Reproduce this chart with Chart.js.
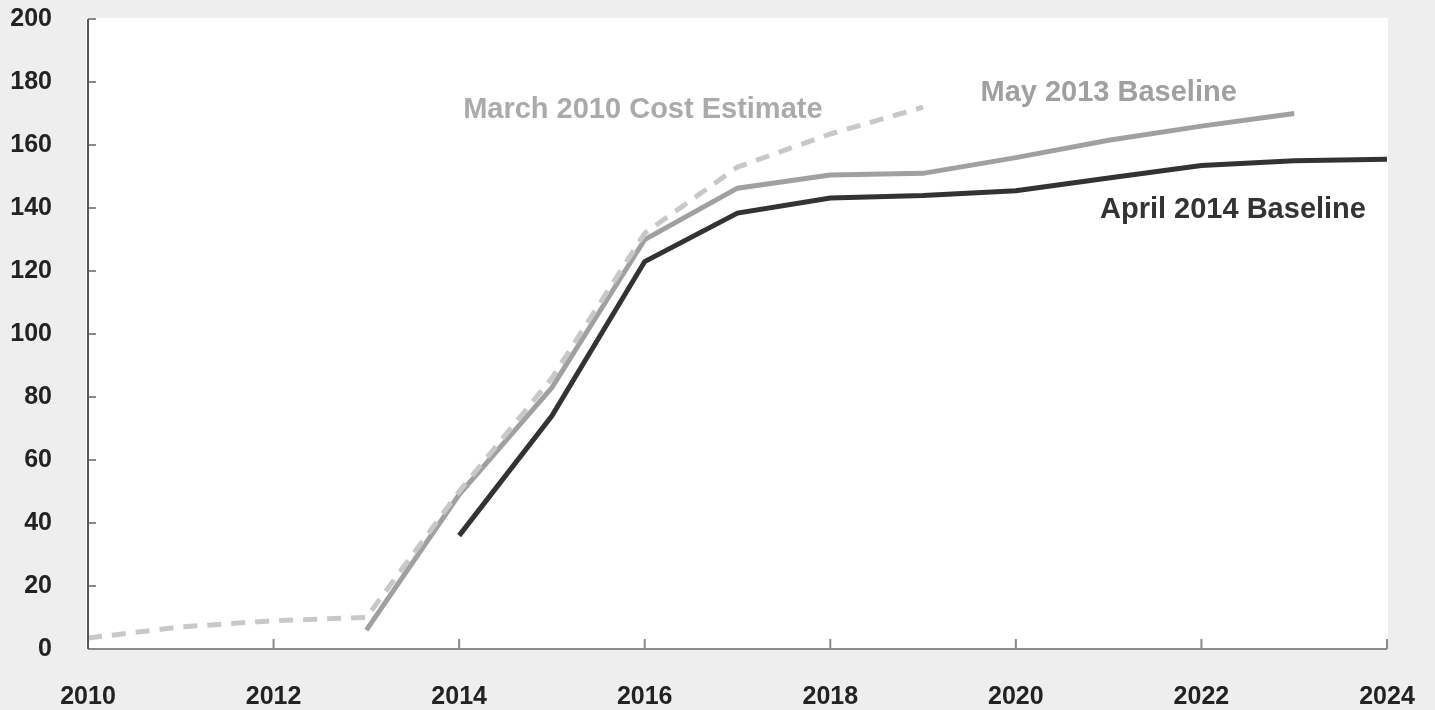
<!DOCTYPE html>
<html>
<head>
<meta charset="utf-8">
<script src="https://cdn.jsdelivr.net/npm/chart.js@4"></script>
<style>
  html, body { margin: 0; padding: 0; background: #eeeeee; }
  #wrap { width: 1435px; height: 710px; }
</style>
</head>
<body>
<div id="wrap"><canvas id="chart" width="1435" height="710"></canvas></div>
<script>
// Cost estimate curves.
const YEARS_MARCH2010 = [2010, 2011, 2012, 2013, 2014, 2015, 2016, 2017, 2018, 2019];
const MARCH2010 = [3.5, 7, 9, 10, 50, 86, 132, 153, 163.5, 172];

const YEARS_MAY2013 = [2013, 2014, 2015, 2016, 2017, 2018, 2019, 2020, 2021, 2022, 2023];
const MAY2013 = [6, 49, 83, 130, 146.3, 150.5, 151, 156, 161.5, 166, 170];

const YEARS_APRIL2014 = [2014, 2015, 2016, 2017, 2018, 2019, 2020, 2021, 2022, 2023, 2024];
const APRIL2014 = [36, 74, 123, 138.4, 143.2, 144, 145.5, 149.5, 153.5, 155, 155.5];

const X_TICKS = [2010, 2012, 2014, 2016, 2018, 2020, 2022, 2024];
const Y_TICKS = [0, 20, 40, 60, 80, 100, 120, 140, 160, 180, 200];

const LABELS = [
  { text: "March 2010 Cost Estimate", x: 2015.98, y: 171.1, color: "#aaaaaa" },
  { text: "May 2013 Baseline", x: 2021.0, y: 176.5, color: "#a0a0a0" },
  { text: "April 2014 Baseline", x: 2022.34, y: 139.4, color: "#333333" },
];

const pts = (xs, ys) => xs.map((x, i) => ({ x, y: ys[i] }));

const TICK_FONT = { family: "'Liberation Sans', Arial, sans-serif", size: 25, weight: "bold" };

// white plot area + inward ticks + axis lines + curve labels
const decor = {
  id: "decor",
  beforeDraw(chart) {
    const { ctx, chartArea: a } = chart;
    ctx.save();
    ctx.fillStyle = "#ffffff";
    ctx.fillRect(a.left - 2, a.top - 1, a.right - a.left + 3, a.bottom - a.top + 1);
    ctx.restore();
  },
  afterDatasetsDraw(chart) {
    const { ctx, chartArea: a, scales } = chart;
    const xs = scales.x, ys = scales.y;
    ctx.save();
    // x axis
    ctx.strokeStyle = "#8a8a8a";
    ctx.lineWidth = 2;
    ctx.beginPath();
    ctx.moveTo(a.left, a.bottom);
    ctx.lineTo(a.right, a.bottom);
    for (const t of X_TICKS) {
      const px = xs.getPixelForValue(t);
      ctx.moveTo(px, a.bottom);
      ctx.lineTo(px, a.bottom - 10);
    }
    ctx.stroke();
    // y axis ticks
    ctx.beginPath();
    for (const t of Y_TICKS) {
      const py = ys.getPixelForValue(t);
      ctx.moveTo(a.left, py);
      ctx.lineTo(a.left + 8, py);
    }
    ctx.stroke();
    // y axis line
    ctx.strokeStyle = "#555555";
    ctx.beginPath();
    ctx.moveTo(a.left, a.top);
    ctx.lineTo(a.left, a.bottom);
    ctx.stroke();

    ctx.font = "bold 29px 'Liberation Sans', Arial, sans-serif";
    ctx.textAlign = "center";
    ctx.textBaseline = "middle";
    for (const l of LABELS) {
      ctx.fillStyle = l.color;
      ctx.fillText(l.text, xs.getPixelForValue(l.x), ys.getPixelForValue(l.y));
    }
    ctx.restore();
  },
};

new Chart(document.getElementById("chart"), {
  type: "line",
  data: {
    datasets: [
      {
        label: "March 2010 Cost Estimate",
        data: pts(YEARS_MARCH2010, MARCH2010),
        borderColor: "#c8c8c8",
        borderWidth: 5,
        borderDash: [14, 10],
      },
      {
        label: "May 2013 Baseline",
        data: pts(YEARS_MAY2013, MAY2013),
        borderColor: "#a0a0a0",
        borderWidth: 5,
      },
      {
        label: "April 2014 Baseline",
        data: pts(YEARS_APRIL2014, APRIL2014),
        borderColor: "#333333",
        borderWidth: 5,
      },
    ],
  },
  options: {
    responsive: false,
    animation: false,
    events: [],
    layout: { padding: { top: 19, right: 48, left: 0, bottom: 0 } },
    elements: { point: { radius: 0 }, line: { tension: 0, borderCapStyle: "butt" } },
    plugins: { legend: { display: false }, tooltip: { enabled: false } },
    scales: {
      x: {
        type: "linear",
        min: 2010,
        max: 2024,
        afterBuildTicks: (s) => { s.ticks = X_TICKS.map((v) => ({ value: v })); },
        afterFit: (s) => { s.height = 61; s.paddingLeft = 0; s.paddingRight = 0; },
        grid: { display: false },
        border: { display: false },
        ticks: {
          color: "#222222",
          font: TICK_FONT,
          padding: 25,
          maxRotation: 0,
          callback: (v) => String(v),
        },
      },
      y: {
        min: 0,
        max: 200,
        afterBuildTicks: (s) => { s.ticks = Y_TICKS.map((v) => ({ value: v })); },
        afterFit: (s) => { s.width = 88; s.paddingTop = 0; s.paddingBottom = 0; },
        grid: { display: false },
        border: { display: false },
        ticks: { color: "#222222", font: TICK_FONT, padding: 28 },
      },
    },
  },
  plugins: [decor],
});
</script>
</body>
</html>
